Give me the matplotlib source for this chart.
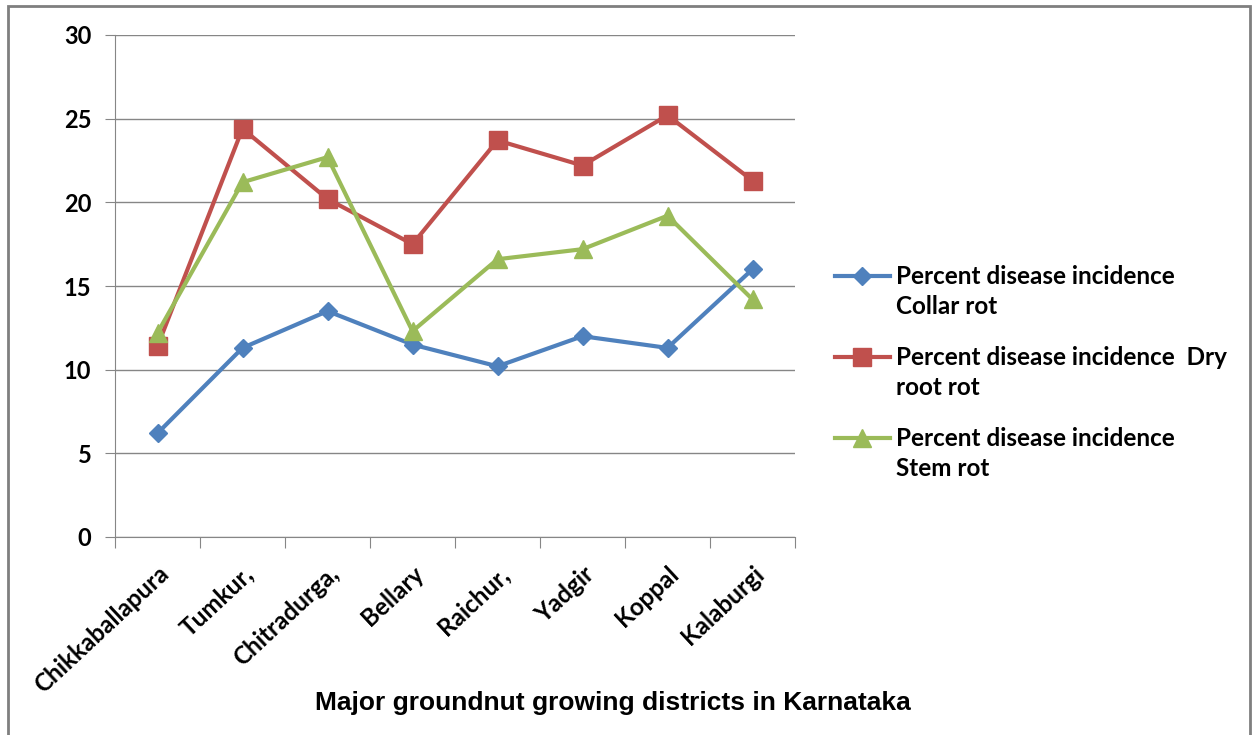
import matplotlib
matplotlib.use("Agg")
import matplotlib.pyplot as plt
from matplotlib.patches import Rectangle
from matplotlib.lines import Line2D

districts = ["Chikkaballapura", "Tumkur,", "Chitradurga,", "Bellary", "Raichur,",
             "Yadgir", "Koppal", "Kalaburgi"]
collar_rot = [6.2, 11.3, 13.5, 11.5, 10.2, 12.0, 11.3, 16.0]
dry_root_rot = [11.4, 24.4, 20.2, 17.5, 23.7, 22.2, 25.2, 21.3]
stem_rot = [12.2, 21.2, 22.7, 12.3, 16.6, 17.2, 19.2, 14.2]
labels = ["Percent disease incidence\nCollar rot",
          "Percent disease incidence  Dry\nroot rot",
          "Percent disease incidence\nStem rot"]
colors = ["#4F81BD", "#C0504D", "#9BBB59"]
markers = [("D", 9), ("s", 13), ("^", 13)]

W, H = 1255, 735
fig = plt.figure(figsize=(12.55, 7.35), dpi=100)
ax = fig.add_axes([115/W, 198/H, 680/W, 502/H])

x = list(range(len(districts)))
for vals, c, (m, ms) in zip([collar_rot, dry_root_rot, stem_rot], colors, markers):
    ax.plot(x, vals, color=c, lw=3, marker=m, ms=ms)

ax.set_xlim(-0.5, 7.5)
ax.set_ylim(0, 30)
ax.set_yticks([0, 5, 10, 15, 20, 25, 30])
ax.yaxis.grid(True, color="#868686", lw=1)
ax.set_axisbelow(True)
for s in ["top", "right"]:
    ax.spines[s].set_visible(False)
for s in ["left", "bottom"]:
    ax.spines[s].set_color("#868686")
ax.tick_params(axis="y", length=7, color="#868686", labelsize=17, pad=10)
for t in ax.get_yticklabels():
    t.set_fontweight("bold")
    t.set_family("Lato")

# category ticks sit between categories, labels at the centres
ax.set_xticks([i - 0.5 for i in range(len(districts) + 1)])
ax.set_xticklabels([])
ax.tick_params(axis="x", length=8, color="#868686")
ax.set_xticks(x, minor=True)
ax.set_xticklabels(districts, minor=True, rotation=43, ha="right", rotation_mode="anchor",
                   fontsize=17.5, fontweight="bold", family="Lato")
ax.tick_params(axis="x", which="minor", length=0, pad=18)

fig.text(613/W, 1 - 703/H, "Major groundnut growing districts in Karnataka",
         ha="center", va="center", fontsize=19, fontweight="bold", family="Liberation Sans")

# legend, marker level with the first text line as in the original
for i, (lab, c, (m, ms)) in enumerate(zip(labels, colors, markers)):
    y = 1 - (276 + 81 * i) / H
    fig.add_artist(Line2D([835/W, 890/W], [y, y], transform=fig.transFigure,
                          color=c, lw=3))
    fig.add_artist(Line2D([862/W], [y], transform=fig.transFigure, color=c,
                          marker=m, ms=ms))
    fig.text(896/W, y + 11/H, lab, ha="left", va="top", fontsize=17.5, fontweight="bold",
             family="Lato", linespacing=1.35, transform=fig.transFigure)

fig.patches.append(Rectangle((8/W, -0.01), 1242/W, 1 - 6/H + 0.01, fill=False,
                             edgecolor="#7f7f7f", lw=2, transform=fig.transFigure))

fig.savefig("out.png", dpi=100)
